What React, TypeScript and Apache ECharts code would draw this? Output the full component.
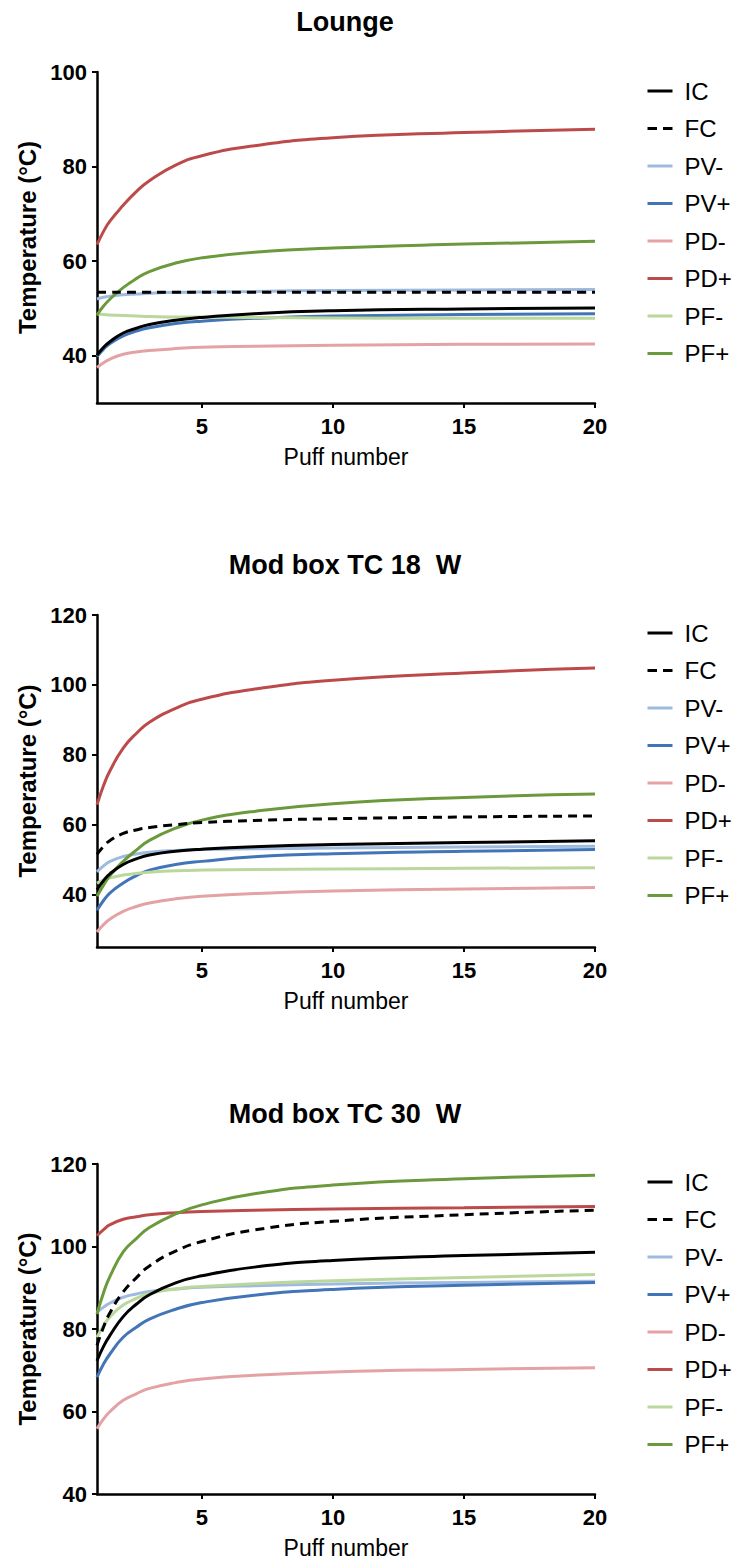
import React, { useEffect, useRef } from "react";
import * as echarts from "echarts";

const puffs = [1, 1.25, 1.5, 2, 2.5, 3, 4, 5, 7, 10, 15, 20];

const seriesNames = ["IC", "FC", "PV-", "PV+", "PD-", "PD+", "PF-", "PF+"];
const chartTitles = ["Lounge", "Mod box TC 18  W", "Mod box TC 30  W"];

// Y axis tick labels per panel
const loungeTicks = [40, 60, 80, 100];
const mod18Ticks = [40, 60, 80, 100, 120];
const mod30Ticks = [40, 60, 80, 100, 120];
const xTicks = [5, 10, 15, 20];

// Lounge
const loungeIC = [40.1, 41.8, 43.0, 44.8, 45.8, 46.6, 47.5, 48.1, 48.9, 49.5, 49.9, 50.1];
const loungeFC = [53.4, 53.4, 53.4, 53.4, 53.4, 53.4, 53.4, 53.4, 53.4, 53.4, 53.4, 53.4];
const loungePVm = [52.0, 52.35, 52.6, 52.9, 53.05, 53.2, 53.4, 53.5, 53.6, 53.8, 53.9, 54.0];
const loungePVp = [39.8, 41.4, 42.6, 44.2, 45.2, 45.9, 46.8, 47.3, 47.9, 48.4, 48.7, 48.9];
const loungePDm = [37.5, 38.5, 39.3, 40.3, 40.8, 41.1, 41.5, 41.8, 42.0, 42.2, 42.4, 42.5];
const loungePDp = [63.5, 66.3, 68.5, 71.8, 74.7, 77.0, 80.3, 82.3, 84.4, 86.1, 87.2, 87.9];
const loungePFm = [48.8, 48.7, 48.6, 48.5, 48.4, 48.3, 48.2, 48.2, 48.1, 48.0, 47.9, 47.9];
const loungePFp = [48.6, 50.5, 52.0, 54.4, 56.3, 57.8, 59.6, 60.7, 61.9, 62.8, 63.6, 64.2];

// Mod box TC 18 W
const mod18IC = [41.4, 44.0, 46.0, 48.6, 50.2, 51.3, 52.4, 53.0, 53.7, 54.3, 54.9, 55.4];
const mod18FC = [51.5, 53.8, 55.5, 57.5, 58.5, 59.2, 60.0, 60.6, 61.2, 61.7, 62.2, 62.5];
const mod18PVm = [46.5, 48.2, 49.5, 50.9, 51.6, 52.1, 52.6, 52.9, 53.1, 53.3, 53.6, 53.8];
const mod18PVp = [35.5, 38.3, 40.5, 43.3, 45.4, 47.0, 48.6, 49.5, 50.8, 51.7, 52.4, 52.9];
const mod18PDm = [29.3, 31.4, 33.0, 35.2, 36.6, 37.6, 38.8, 39.5, 40.3, 41.0, 41.6, 42.0];
const mod18PDp = [65.7, 71.2, 75.5, 81.9, 86.1, 89.3, 93.3, 95.9, 98.8, 101.3, 103.4, 104.8];
const mod18PFm = [43.3, 44.1, 44.8, 45.6, 46.05, 46.4, 46.8, 47.0, 47.2, 47.3, 47.5, 47.7];
const mod18PFp = [39.5, 42.7, 45.5, 49.5, 52.7, 55.5, 59.0, 61.3, 63.8, 66.0, 67.8, 68.8];

// Mod box TC 30 W
const mod30IC = [72.3, 75.8, 78.5, 83.0, 86.0, 88.3, 91.2, 92.9, 95.0, 96.6, 97.8, 98.6];
const mod30FC = [76.0, 80.5, 84.0, 89.0, 92.4, 95.3, 98.9, 101.2, 104.0, 106.1, 107.7, 108.8];
const mod30PVm = [84.0, 85.3, 86.3, 87.7, 88.5, 89.1, 89.7, 90.1, 90.5, 90.9, 91.3, 91.6];
const mod30PVp = [68.3, 71.5, 74.0, 78.0, 80.4, 82.4, 84.8, 86.4, 88.2, 89.6, 90.6, 91.3];
const mod30PDm = [55.8, 58.2, 60.0, 62.7, 64.3, 65.6, 67.0, 67.9, 68.8, 69.6, 70.2, 70.6];
const mod30PDp = [102.6, 104.1, 105.3, 106.6, 107.2, 107.7, 108.2, 108.5, 108.8, 109.1, 109.4, 109.7];
const mod30PFm = [78.0, 80.8, 83.0, 85.8, 87.4, 88.6, 89.7, 90.3, 91.0, 91.7, 92.5, 93.2];
const mod30PFp = [83.6, 88.8, 92.8, 98.7, 101.9, 104.6, 107.9, 110.1, 112.8, 114.9, 116.4, 117.3];

const panelValues = [
  [loungeIC, loungeFC, loungePVm, loungePVp, loungePDm, loungePDp, loungePFm, loungePFp],
  [mod18IC, mod18FC, mod18PVm, mod18PVp, mod18PDm, mod18PDp, mod18PFm, mod18PFp],
  [mod30IC, mod30FC, mod30PVm, mod30PVp, mod30PDm, mod30PDp, mod30PFm, mod30PFp],
];
const panelTicks = [loungeTicks, mod18Ticks, mod30Ticks];
const panelMin = [30, 25, 40];
const panelMax = [100, 120, 120];

const seriesColors = ["#000000", "#000000", "#9fbadf", "#4274b8", "#e3a3a4", "#bd4a4a", "#bad89c", "#6b9a3c"];
const seriesDashed = [false, true, false, false, false, false, false, false];

const FONT = '"Liberation Sans", Arial, Helvetica, sans-serif';

// layout (pixels)
const gridLeft = 97;
const gridWidth = 498;
const gridTops = [72, 615, 1164];
const gridHeights = [331, 332, 330];
const titleYs = [22, 565, 1114];
const legendTops = [79, 621, 1170];

export default function App() {
  const ref = useRef<HTMLDivElement>(null);

  useEffect(() => {
    if (!ref.current) return;
    const chart = echarts.init(ref.current, null, { renderer: "svg" });

    const grids: any[] = [];
    const xAxes: any[] = [];
    const yAxes: any[] = [];
    const legends: any[] = [];
    const graphics: any[] = [];
    const series: any[] = [];

    const legendData = seriesNames.map((n, s) => ({
      name: n,
      lineStyle: {
        color: seriesColors[s],
        width: 3,
        type: seriesDashed[s] ? [9.5, 6] : "solid",
      },
      itemStyle: { color: "rgba(0,0,0,0)", borderWidth: 0, opacity: 0 },
    }));

    for (let p = 0; p < 3; p++) {
      grids.push({ left: gridLeft, top: gridTops[p], width: gridWidth, height: gridHeights[p] });
      xAxes.push({
        type: "value",
        gridIndex: p,
        min: 1,
        max: 20,
        name: "Puff number",
        nameLocation: "middle",
        nameGap: 42,
        nameTextStyle: { fontFamily: FONT, fontSize: 23, color: "#000" },
        axisLine: { show: true, onZero: false, lineStyle: { color: "#000", width: 2.5 } },
        axisTick: { show: true, length: 5, lineStyle: { color: "#000", width: 2 }, customValues: xTicks },
        axisLabel: {
          fontFamily: FONT,
          fontSize: 22,
          fontWeight: "bold",
          color: "#000",
          margin: 12,
          customValues: xTicks,
        },
        splitLine: { show: false },
      });
      yAxes.push({
        type: "value",
        gridIndex: p,
        min: panelMin[p],
        max: panelMax[p],
        name: "Temperature (°C)",
        nameLocation: "middle",
        nameGap: 58,
        nameTextStyle: { fontFamily: FONT, fontSize: 24, fontWeight: "bold", color: "#000" },
        axisLine: { show: true, onZero: false, lineStyle: { color: "#000", width: 2.5 } },
        axisTick: { show: true, length: 5, lineStyle: { color: "#000", width: 2 }, customValues: panelTicks[p] },
        axisLabel: {
          fontFamily: FONT,
          fontSize: 22,
          fontWeight: "bold",
          color: "#000",
          margin: 10,
          customValues: panelTicks[p],
        },
        splitLine: { show: false },
      });
      legends.push({
        orient: "vertical",
        left: 646,
        top: legendTops[p],
        padding: 0,
        itemWidth: 25,
        itemHeight: 3,
        itemGap: 13.5,
        selectedMode: false,
        data: legendData,
        itemStyle: { color: "rgba(0,0,0,0)", borderWidth: 0, opacity: 0 },
        textStyle: { fontFamily: FONT, fontSize: 24, color: "#000", padding: [0, 0, 0, 7] },
      });
      graphics.push({
        type: "text",
        x: 345,
        y: titleYs[p],
        style: {
          text: chartTitles[p],
          fontFamily: FONT,
          fontSize: 27,
          fontWeight: "bold",
          fill: "#000",
          textAlign: "center",
          textVerticalAlign: "middle",
        },
      });
      const vals = panelValues[p];
      for (let s = 0; s < seriesNames.length; s++) {
        series.push({
          type: "line",
          name: seriesNames[s],
          xAxisIndex: p,
          yAxisIndex: p,
          data: puffs.map((x, i) => [x, vals[s][i]]),
          smooth: 0.5,
          symbol: "none",
          showSymbol: false,
          z: s < 2 ? 4 : 3,
          lineStyle: {
            color: seriesColors[s],
            width: 3,
            type: seriesDashed[s] ? [9, 6] : "solid",
          },
          itemStyle: { color: seriesColors[s] },
          emphasis: { disabled: true },
        });
      }
    }

    chart.setOption({
      animation: false,
      backgroundColor: "#ffffff",
      grid: grids,
      xAxis: xAxes,
      yAxis: yAxes,
      legend: legends,
      graphic: graphics,
      series,
    });

    return () => chart.dispose();
  }, []);

  return (
    <div
      ref={ref}
      style={{ position: "absolute", left: 0, top: 0, width: 736, height: 1564, background: "#fff" }}
    />
  );
}
